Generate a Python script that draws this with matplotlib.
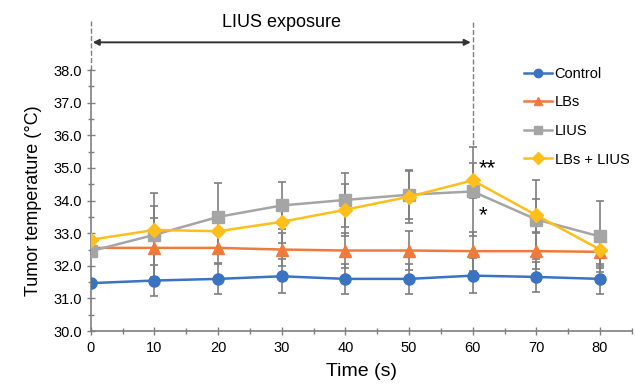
import matplotlib
matplotlib.use('Agg')
import matplotlib.pyplot as plt
from matplotlib.ticker import MultipleLocator

plt.rcParams['font.family'] = ['Liberation Sans', 'DejaVu Sans']

time_s = [0, 10, 20, 30, 40, 50, 60, 70, 80]

control = [31.47, 31.55, 31.60, 31.68, 31.60, 31.60, 31.70, 31.66, 31.60]
lbs = [32.55, 32.55, 32.55, 32.50, 32.47, 32.47, 32.45, 32.45, 32.43]
lius = [32.45, 32.95, 33.50, 33.85, 34.02, 34.18, 34.28, 33.42, 32.90]
lbs_lius = [32.80, 33.10, 33.06, 33.35, 33.72, 34.12, 34.62, 33.55, 32.50]

control_err = [0, 0.48, 0.47, 0.52, 0.47, 0.45, 0.53, 0.47, 0.47]
lbs_err = [0, 0.92, 0.46, 0.50, 0.55, 0.60, 0.60, 0.55, 0.50]
lius_err = [0, 1.28, 1.04, 0.72, 0.82, 0.75, 1.36, 1.20, 1.09]
lbs_lius_err = [0, 0.73, 0.60, 0.65, 0.80, 0.80, 0.53, 0.50, 0.50]

series = [
    ('Control', control, control_err, '#3a73c2', 'o', 8),
    ('LBs', lbs, lbs_err, '#f07a3a', '^', 8),
    ('LIUS', lius, lius_err, '#a5a5a5', 's', 8),
    ('LBs + LIUS', lbs_lius, lbs_lius_err, '#ffbf1a', 'D', 7.5),
]

fig = plt.figure(figsize=(6.35, 3.85), dpi=100)
ax = fig.add_axes([0.143, 0.140, 0.852, 0.678])

for name, vals, err, col, mk, ms in series:
    ax.errorbar(time_s, vals, yerr=err, fmt='none', ecolor='#7f7f7f',
                elinewidth=1.2, capsize=3, capthick=1.2, zorder=2)
for name, vals, err, col, mk, ms in series:
    ax.plot(time_s, vals, color=col, marker=mk, markersize=ms, linewidth=1.8,
            markeredgecolor=col, label=name, zorder=3)

ax.set_xlim(0, 85)
ax.set_ylim(30, 38)
ax.xaxis.set_major_locator(MultipleLocator(10))
ax.xaxis.set_minor_locator(MultipleLocator(5))
ax.yaxis.set_major_locator(MultipleLocator(1))
ax.yaxis.set_minor_locator(MultipleLocator(0.5))
ax.yaxis.set_major_formatter(plt.FormatStrFormatter('%.1f'))
ax.set_xticks([0, 10, 20, 30, 40, 50, 60, 70, 80])

for s in ['top', 'right']:
    ax.spines[s].set_visible(False)
for s in ['left', 'bottom']:
    ax.spines[s].set_color('#7f7f7f')
    ax.spines[s].set_linewidth(1.2)
ax.tick_params(which='both', direction='inout', color='#7f7f7f', width=1.0)
ax.tick_params(which='major', length=6, labelsize=10.5)
ax.tick_params(which='minor', length=4)
ax.tick_params(axis='x', pad=4)

ax.set_xlabel('Time (s)', fontsize=14, labelpad=6)
ax.set_ylabel('Tumor temperature (°C)', fontsize=13, labelpad=8)

# exposure window markers
ax.plot([0, 0], [38, 39.5], color='#7f7f7f', linestyle='--', linewidth=1, clip_on=False)
ax.plot([60, 60], [35.7, 39.5], color='#7f7f7f', linestyle='--', linewidth=1, clip_on=False)
ax.annotate('', xy=(0.3, 38.85), xytext=(59.7, 38.85), xycoords='data',
            arrowprops=dict(arrowstyle='<|-|>', color='#333333', lw=1.4,
                            mutation_scale=9, shrinkA=0, shrinkB=0),
            annotation_clip=False)
ax.text(30, 39.45, 'LIUS exposure', ha='center', va='center', fontsize=13)

ax.text(60.9, 34.98, '**', fontsize=16, ha='left', va='center')
ax.text(60.9, 33.55, '*', fontsize=16, ha='left', va='center')

ax.legend(loc='upper left', bbox_to_anchor=(0.79, 1.035), frameon=False,
          fontsize=10.5, handlelength=1.9, handletextpad=0.2,
          labelspacing=1.0, borderaxespad=0, markerscale=0.75)

fig.savefig('out.png', dpi=100)
